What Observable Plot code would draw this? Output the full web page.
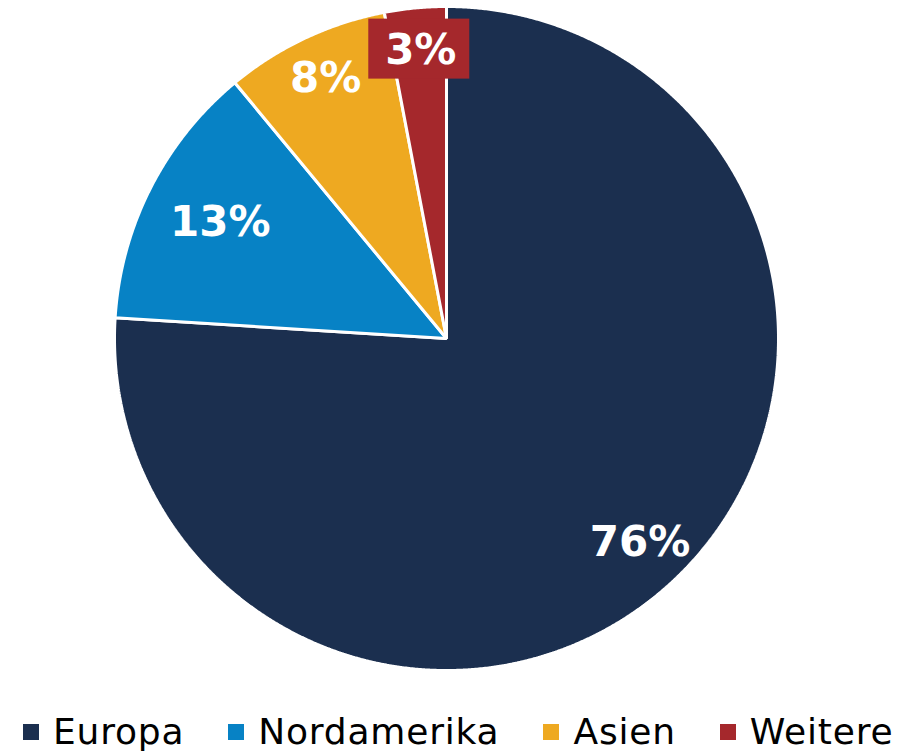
<!DOCTYPE html>
<html><head><meta charset="utf-8">
<script src="https://cdn.jsdelivr.net/npm/d3@7"></script>
<script src="https://cdn.jsdelivr.net/npm/@observablehq/plot@0.6"></script>
<style>
html,body{margin:0;padding:0;background:#fff;}
body{width:902px;height:753px;overflow:hidden;font-family:"DejaVu Sans",Verdana,sans-serif;}
#legend{display:flex;align-items:center;height:64px;padding-left:23px;box-sizing:border-box;}
.item{display:flex;align-items:center;margin-right:44px;}
.sw{width:16px;height:16px;margin-right:14px;flex:none;}
.lt{font-size:36px;line-height:1;letter-spacing:0.8px;color:#000;white-space:nowrap;}
</style></head>
<body><div id="chart"></div><div id="legend"></div>
<script>
// Data
const regions = ["Europa", "Nordamerika", "Asien", "Weitere"];
const shares = [76, 13, 8, 3];
const valueLabels = ["76%", "13%", "8%", "3%"];
const colors = ["#1b2f4f", "#0782c5", "#eea921", "#a5282c"];

// Layout constants (styles)
const W = 902, H = 700, CX = 446, CY = 338, R = 332;
const labelRadius = [0.845, 0.77, 0.866, 0.871];

const arcs = d3.pie().sort(null).value(d => d)(shares);
const pts = [];
arcs.forEach((a, i) => {
  pts.push({region: regions[i], x: 0, y: 0});
  const n = Math.max(4, Math.ceil((a.endAngle - a.startAngle) / 0.005));
  for (let k = 0; k <= n; k++) {
    const t = a.startAngle + (a.endAngle - a.startAngle) * k / n;
    pts.push({region: regions[i], x: Math.sin(t), y: Math.cos(t)});
  }
});
const labels = arcs.map((a, i) => {
  const m = (a.startAngle + a.endAngle) / 2;
  return {region: regions[i], text: valueLabels[i], x: labelRadius[i] * Math.sin(m), y: labelRadius[i] * Math.cos(m)};
});
const boxHalfW = 50.5 / R, boxHalfH = 30 / R;
const boxed = labels.filter(d => d.region === "Weitere");

const chart = Plot.plot({
  width: W, height: H,
  marginTop: 0, marginRight: 0, marginBottom: 0, marginLeft: 0,
  x: {domain: [-CX / R, (W - CX) / R], axis: null},
  y: {domain: [-(H - CY) / R, CY / R], axis: null},
  color: {domain: regions, range: colors},
  style: {background: "transparent", overflow: "visible"},
  marks: [
    Plot.line(pts, {x: "x", y: "y", z: "region", fill: "region", stroke: "white", strokeWidth: 3, strokeLinejoin: "miter", curve: "linear-closed"}),
    Plot.rect(boxed, {x1: d => d.x - boxHalfW, x2: d => d.x + boxHalfW, y1: d => d.y - boxHalfH + 1.5 / R, y2: d => d.y + boxHalfH + 1.5 / R, fill: "region"}),
    Plot.text(labels, {x: "x", y: "y", text: "text", fill: "white", fontSize: 42, fontWeight: "bold", fontFamily: "DejaVu Sans, Verdana, sans-serif", letterSpacing: 3, dx: 1.5})
  ]
});
document.getElementById("chart").appendChild(chart);

const leg = document.getElementById("legend");
regions.forEach((r, i) => {
  const it = document.createElement("div"); it.className = "item";
  const sw = document.createElement("div"); sw.className = "sw"; sw.style.background = colors[i];
  const t = document.createElement("span"); t.className = "lt"; t.textContent = r;
  it.appendChild(sw); it.appendChild(t); leg.appendChild(it);
});
</script>
</body></html>
